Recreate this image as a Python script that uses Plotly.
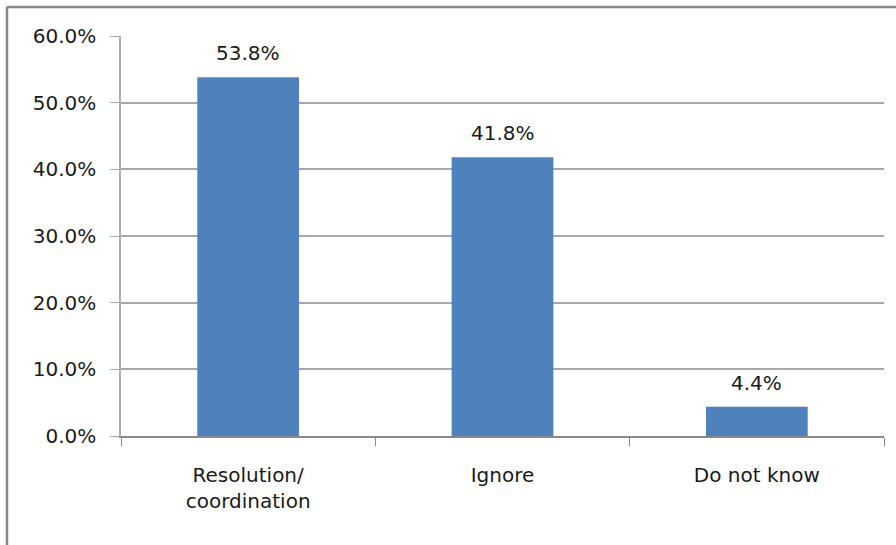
import plotly.graph_objects as go

categories = ["Resolution/<br>coordination", "Ignore", "Do not know"]
values = [0.538, 0.418, 0.044]
labels = ["53.8%", "41.8%", "4.4%"]
y_ticks = [0, 0.1, 0.2, 0.3, 0.4, 0.5, 0.6]

W, H = 896, 545
L, R, T, B = 121, 12, 36, 109
pw, ph = W - L - R, H - T - B

font = dict(family="DejaVu Sans", size=20, color="#1a1a1a")

fig = go.Figure(go.Bar(
    x=categories, y=values,
    marker=dict(color="#4F81BD", line=dict(width=0)), width=0.4,
))

for c, v, t in zip(categories, values, labels):
    fig.add_annotation(x=c, y=v, text=t, showarrow=False, yanchor="bottom",
                       yshift=10, font=font)

fig.update_layout(
    width=W, height=H, margin=dict(l=L, r=R, t=T, b=B, autoexpand=False),
    paper_bgcolor="white", plot_bgcolor="white", showlegend=False,
    font=font,
    xaxis=dict(showline=True, linecolor="#8a8a8a", linewidth=1.5,
               ticks="outside", tickson="boundaries", ticklen=8, tickcolor="#8a8a8a",
               tickfont=font, ticklabelstandoff=20, showgrid=False),
    yaxis=dict(range=[0, 0.6], tickvals=y_ticks, tickformat=".1%",
               showline=True, linecolor="#b0b0b0", linewidth=1.5,
               ticks="outside", ticklen=9, tickcolor="#a8a8a8",
               showgrid=True, gridcolor="#a8a8a8", gridwidth=1.5,
               tickfont=font, ticklabelstandoff=10, zeroline=False),
    shapes=[
        dict(type="line", xref="paper", yref="paper",
             x0=(7 - L) / pw, x1=1 + R / pw + 0.01, y0=1 + (T - 7) / ph, y1=1 + (T - 7) / ph,
             line=dict(color="#878787", width=2.5)),
        dict(type="line", xref="paper", yref="paper",
             x0=(7 - L) / pw, x1=(7 - L) / pw, y0=1 + (T - 7) / ph, y1=-B / ph - 0.01,
             line=dict(color="#878787", width=2.5)),
    ],
)

fig.write_html("out.html")
